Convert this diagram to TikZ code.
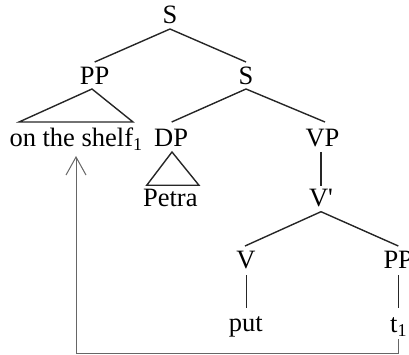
\documentclass[tikz,border=0pt]{standalone}
\usepackage{fontspec}
\setmainfont{Liberation Serif}
\usetikzlibrary{arrows.meta}
\newcommand{\subnum}[1]{\raisebox{-4pt}{\fontsize{18}{18}\selectfont #1}}
\begin{document}
\begin{tikzpicture}[x=1pt,y=-1pt,
  lab/.style={inner sep=0pt, anchor=base, font=\fontsize{26.5}{30}\selectfont},
  edge/.style={line width=1.4pt, black!85},
  mv/.style={line width=1pt, draw=gray!80!black, -{Straight Barb[length=18pt,width=20pt,line width=1pt]}}]
\useasboundingbox (0,0) rectangle (409,355);
\node[lab] (S) at (170,24) {S};
\node[lab] (PP) at (94.7,85) {PP};
\node[lab] (S2) at (246,85) {S};
\node[lab, anchor=base west] (shelf) at (9.3,146.7) {on the shelf\subnum{1}};
\node[lab, anchor=base west] (DP) at (154,146.7) {DP};
\node[lab] (VP) at (322.5,146.7) {VP};
\node[lab] (petra) at (170.3,207) {Petra};
\node[lab] (Vbar) at (321,207) {V\textquotesingle};
\node[lab] (V) at (246,268) {V};
\node[lab, anchor=base west] (PP3) at (383.3,268) {PP};
\node[lab] (put) at (245.7,331.7) {put};
\node[lab, anchor=base west] (t) at (390,332) {t\subnum{1}};
\draw[edge] ([yshift=-5pt]S.base) -- ([yshift=23pt]PP.base);
\draw[edge] ([yshift=-5pt]S.base) -- ([yshift=23pt]S2.base);
\draw[edge] ([xshift=-2.7pt,yshift=-4pt]PP.base) -- ([xshift=9.7pt,yshift=24.7pt]shelf.base west) -- ([xshift=123.7pt,yshift=24.7pt]shelf.base west) -- cycle;
\draw[edge] ([yshift=-4pt]S2.base) -- ([xshift=17.7pt,yshift=24.7pt]DP.base west);
\draw[edge] ([yshift=-4pt]S2.base) -- ([xshift=2.5pt,yshift=24.7pt]VP.base);
\draw[edge] ([xshift=18pt,yshift=-5.3pt]DP.base west) -- ([xshift=-23.6pt,yshift=21.7pt]petra.base) -- ([xshift=28.7pt,yshift=21.7pt]petra.base) -- cycle;
\draw[edge] ([xshift=-1.5pt,yshift=-5.3pt]VP.base) -- ([yshift=21pt]Vbar.base);
\draw[edge] ([yshift=-4.7pt]Vbar.base) -- ([xshift=-1pt,yshift=22pt]V.base);
\draw[edge] ([yshift=-4.7pt]Vbar.base) -- ([xshift=15pt,yshift=22pt]PP3.base west);
\draw[edge] ([xshift=0.7pt,yshift=-7pt]V.base) -- ([xshift=1pt,yshift=23.7pt]put.base);
\draw[edge] ([xshift=15pt,yshift=-7pt]PP3.base west) -- ([xshift=8.3pt,yshift=24pt]t.base west);
\draw[mv] ([xshift=8.3pt,yshift=-7.3pt]t.base west) -- ++(0,14) -| ([xshift=66.7pt,yshift=-9.3pt]shelf.base west);
\end{tikzpicture}
\end{document}
